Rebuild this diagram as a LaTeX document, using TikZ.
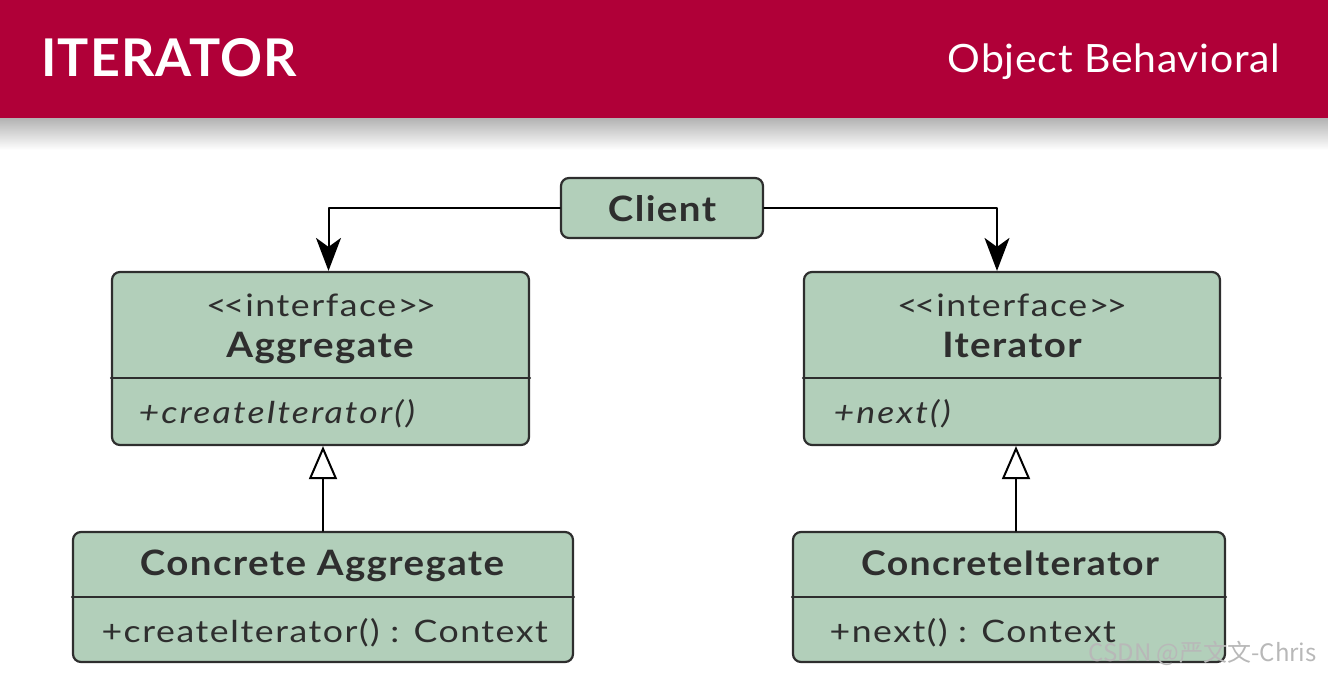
\documentclass[tikz,border=0pt]{standalone}
\usepackage{fontspec}
\setmainfont{Lato}
\newfontfamily\titlefont{Lato}[LetterSpace=2]
\newfontfamily\kindfont{Lato}[FakeStretch=1.05,LetterSpace=2]
\newfontfamily\namefont{Lato}[FakeStretch=1.1,LetterSpace=4]
\newfontfamily\opfont{Lato}[FakeStretch=1.15,LetterSpace=5]
\newfontfamily\opitfont{Lato}[FakeStretch=1.15,LetterSpace=7]
\newfontfamily\wmfont{Noto Sans CJK SC}
\usetikzlibrary{arrows.meta}
\definecolor{bandred}{rgb}{0.69,0.,0.22}
\definecolor{boxgreen}{rgb}{0.70,0.81,0.73}
\definecolor{edgegray}{rgb}{0.18,0.18,0.18}
\begin{document}
\begin{tikzpicture}[x=1pt,y=-1pt,line cap=round,line join=round,
  umlbox/.style={draw=edgegray,fill=boxgreen,line width=2.2pt,rounded corners=8pt,inner sep=0pt},
  divline/.style={draw=edgegray,line width=2.2pt},
  assoc/.style={line width=2pt,-{Stealth[length=33pt,width=25pt,inset=9pt]}},
  inherit/.style={line width=2pt,-{Triangle[open,length=33pt,width=28pt,line width=2pt]}},
  nametext/.style={anchor=base,font=\namefont\bfseries\fontsize{35}{40}\selectfont,text=edgegray},
  stereotext/.style={anchor=base,font=\opfont\fontsize{31}{36}\selectfont,text=edgegray},
  optext/.style={anchor=base west,font=\opfont\fontsize{31}{36}\selectfont,text=edgegray}]
\useasboundingbox (0,0) rectangle (1328,676);
% header band
\shade[top color=black!30,bottom color=white] (0,118) rectangle (1328,150);
\fill[color=bandred] (0,0) rectangle (1328,118);
\node[anchor=base west,text=white,font=\titlefont\bfseries\fontsize{52}{60}\selectfont] (title) at (38,77) {ITERATOR};
\node[anchor=base east,text=white,font=\kindfont\fontsize{39}{44}\selectfont] (kind) at (1284,73) {Object Behavioral};
% classes
\node[umlbox,minimum width=202,minimum height=60] (client) at (662,208) {};
\node[nametext] (clientname) at (662,222) {Client};
\node[umlbox,minimum width=417,minimum height=173] (aggr) at (320.5,358.5) {};
\draw[divline] (aggr.west |- 0,378) -- (aggr.east |- 0,378);
\node[stereotext] (aggrst) at (321,317) {{<}\kern-3pt{<}\kern1pt interface{>}\kern-3pt{>}};
\node[nametext] (aggrname) at (320,357) {Aggregate};
\node[optext,font=\opitfont\itshape\fontsize{31}{36}\selectfont] (aggrop) at (135,423) {+createIterator()};
\node[umlbox,minimum width=416,minimum height=173] (iter) at (1012,358.5) {};
\draw[divline] (iter.west |- 0,378) -- (iter.east |- 0,378);
\node[stereotext] (iterst) at (1012,317) {{<}\kern-3pt{<}\kern1pt interface{>}\kern-3pt{>}};
\node[nametext] (itername) at (1012,357) {Iterator};
\node[optext,font=\opitfont\itshape\fontsize{31}{36}\selectfont] (iterop) at (830,423) {+next()};
\node[umlbox,minimum width=500,minimum height=130] (caggr) at (323,597) {};
\draw[divline] (caggr.west |- 0,597) -- (caggr.east |- 0,597);
\node[nametext] (caggrname) at (322,575) {Concrete Aggregate};
\node[optext] (caggrop) at (98,642) {+createIterator() : Context};
\node[umlbox,minimum width=432,minimum height=130] (citer) at (1009,597) {};
\draw[divline] (citer.west |- 0,597) -- (citer.east |- 0,597);
\node[nametext,font=\namefont\bfseries\fontsize{34}{40}\selectfont] (citername) at (1010,575) {ConcreteIterator};
\node[optext] (citerop) at (826,642) {+next() : Context};
% connectors
\draw[assoc] (client.west) -| ([xshift=8pt]aggr.north);
\draw[assoc] (client.east) -| ([xshift=-15pt]iter.north);
\draw[inherit] (caggr.north) -- (caggr.north |- aggr.south);
\draw[inherit] ([xshift=7pt]citer.north) -- ([xshift=7pt]citer.north |- iter.south);
% watermark
\node[anchor=base west,text=white!72!black,font=\wmfont\fontsize{24}{28}\selectfont] (mark) at (1085,661) {CSDN @严文文-Chris};
\end{tikzpicture}
\end{document}
